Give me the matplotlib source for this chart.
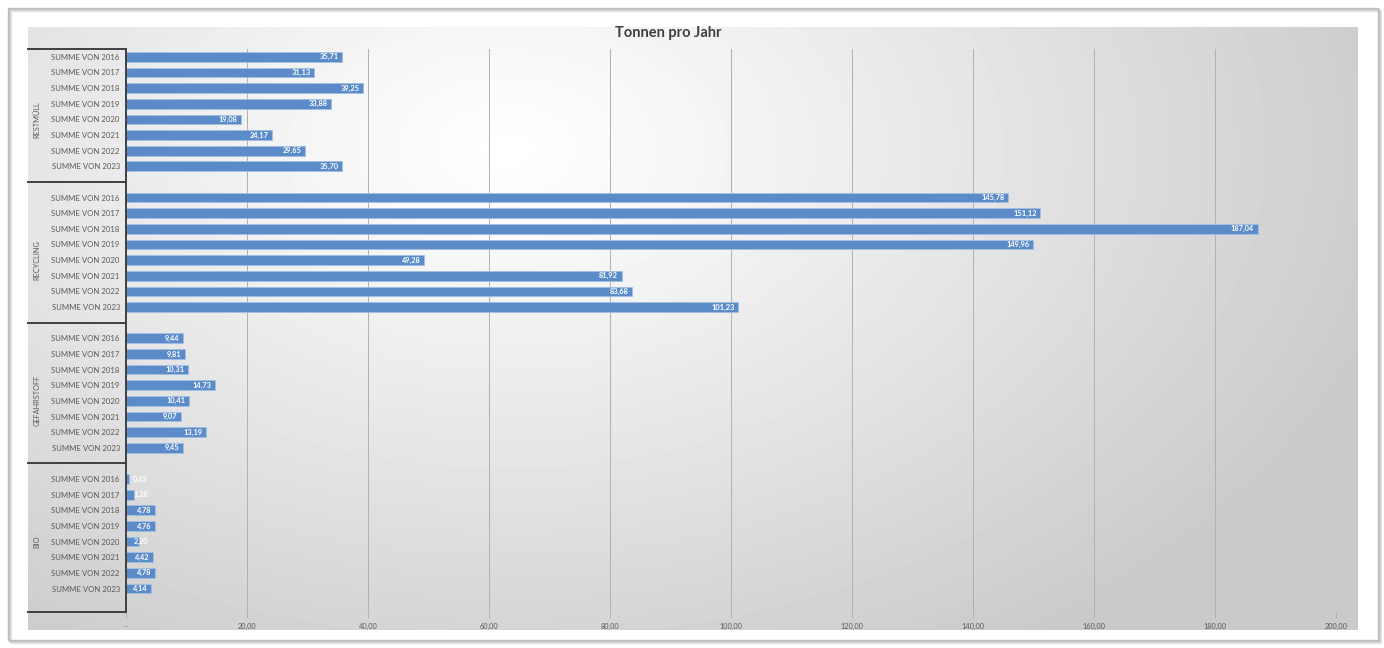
import numpy as np
import matplotlib
matplotlib.use("Agg")
import matplotlib.pyplot as plt
from matplotlib.patches import Rectangle

plt.rcParams['font.family'] = ['Lato', 'DejaVu Sans']

# data
groups = ['RESTMÜLL', 'RECYCLING', 'GEFAHRSTOFF', 'BIO']
years = ['2016', '2017', '2018', '2019', '2020', '2021', '2022', '2023']
restmuell = [35.71, 31.13, 39.25, 33.88, 19.08, 24.17, 29.65, 35.70]
recycling = [145.78, 151.12, 187.04, 149.96, 49.28, 81.92, 83.68, 101.23]
gefahrstoff = [9.44, 9.81, 10.31, 14.73, 10.41, 9.07, 13.19, 9.45]
bio = [0.43, 1.28, 4.78, 4.76, 2.20, 4.42, 4.78, 4.14]
x_ticks = [0, 20, 40, 60, 80, 100, 120, 140, 160, 180, 200]

series = [restmuell, recycling, gefahrstoff, bio]

W, H = 1384, 648
fig = plt.figure(figsize=(W / 100, H / 100), dpi=100)
fig.patch.set_facecolor('white')

# outer frame with soft shadow
for off, col in [(3, '#e6e6e6'), (2, '#d9d9d9'), (1, '#c8c8c8'), (0, '#bdbdbd')]:
    fig.patches.append(Rectangle(((8 + off) / W, (8 - off) / H), 1370 / W, 632 / H,
                                 transform=fig.transFigure, facecolor='none',
                                 edgecolor=col, lw=1, zorder=-5))

# gradient chart background
bg = fig.add_axes([28 / W, 1 - 630 / H, (1358 - 28) / W, (630 - 27) / H], zorder=-2)
gx, gy = np.meshgrid(np.linspace(0, 1, 400), np.linspace(0, 1, 200))
d = np.sqrt(((gx - 0.36) / 0.7) ** 2 + ((gy - 0.2) / 1.0) ** 2)
shade = 1.0 - 0.21 * np.clip(d, 0, 1) ** 1.1
bg.imshow(shade, cmap='gray', vmin=0, vmax=1, aspect='auto', interpolation='bilinear')
bg.axis('off')

ax_l, ax_r, ax_t, ax_b = 126, 1336, 49, 612
ax = fig.add_axes([ax_l / W, 1 - ax_b / H, (ax_r - ax_l) / W, (ax_b - ax_t) / H], zorder=1)
ax.set_facecolor('none')

pos, vals, labels = [], [], []
for gi, s in enumerate(series):
    for j, v in enumerate(s):
        pos.append(gi * 9 + j)
        vals.append(v)
        labels.append('SUMME VON ' + years[j])

ax.barh(pos, vals, height=0.62, color='#5b8cc9', edgecolor='#a2bfe3', lw=0.6, zorder=3)

for p, v in zip(pos, vals):
    txt = f"{v:.2f}".replace('.', ',')
    if v < 4:
        ax.text(1.2, p, txt, ha='left', va='center', color='white', fontsize=5.3,
                fontweight='bold', zorder=4)
    else:
        ax.text(v - 0.6, p, txt, ha='right', va='center', color='white', fontsize=5.3,
                fontweight='bold', zorder=4)

ax.set_xlim(0, 200)
ax.set_ylim(35.5, -0.5)
ax.set_yticks(pos)
ax.set_yticklabels(labels, fontsize=5.6, color='#595959')
ax.tick_params(axis='y', length=0, pad=4.5)
ax.set_xticks(x_ticks)
ax.set_xticklabels(['-' if t == 0 else f"{t:.2f}".replace('.', ',') for t in x_ticks],
                   fontsize=5.3, color='#595959')
ax.tick_params(axis='x', length=4, color='#b0b0b0', width=0.7, pad=4)
ax.grid(axis='x', color='#b0b0b0', lw=0.7, zorder=1)

for sp in ['top', 'right', 'bottom']:
    ax.spines[sp].set_visible(False)
ax.spines['left'].set_color('#404040')
ax.spines['left'].set_linewidth(1.4)
ax.spines['left'].set_zorder(5)

# multi-level category brackets
tr = ax.get_yaxis_transform()
x0 = (28 - ax_l) / (ax_r - ax_l)
for yb in [-0.5, 8, 17, 26, 35.5]:
    ax.plot([x0, 0], [yb, yb], transform=tr, color='#404040', lw=1.4, clip_on=False, zorder=5)
for gi, g in enumerate(groups):
    ax.text((37 - ax_l) / (ax_r - ax_l), gi * 9 + 4, g, transform=tr, rotation=90,
            ha='center', va='center', fontsize=5.3, color='#595959')

fig.text(668 / W, 1 - 33 / H, 'Tonnen pro Jahr', ha='center', va='center',
         fontsize=10.5, fontweight='bold', color='#404040')

fig.savefig('out.png', dpi=100)
